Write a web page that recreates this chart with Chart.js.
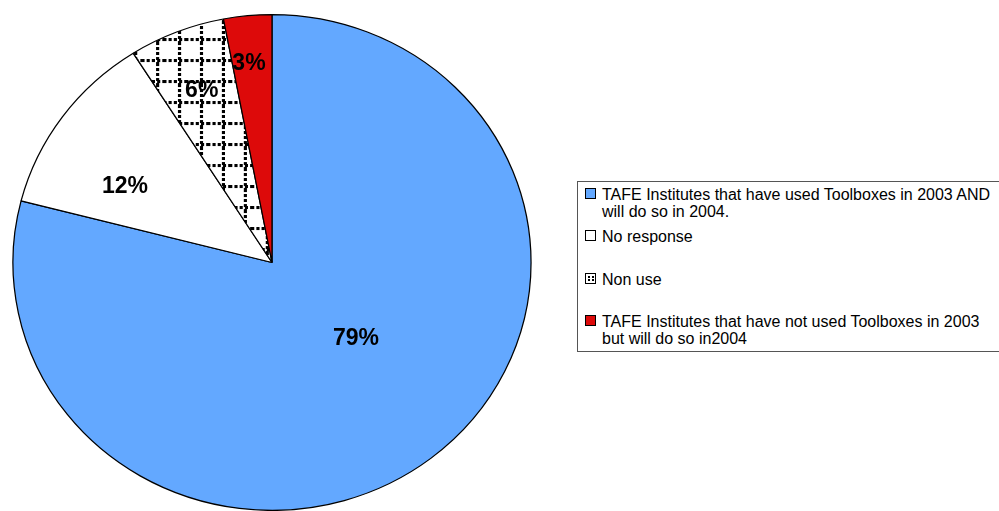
<!DOCTYPE html>
<html>
<head>
<meta charset="utf-8">
<script src="https://cdn.jsdelivr.net/npm/chart.js@4/dist/chart.umd.min.js"></script>
<style>
    body { margin: 0; background: #fff; }
    #wrap { position: relative; width: 999px; height: 511px; overflow: hidden; }
    #legend {
        position: absolute;
        left: 577px;
        top: 181px;
        width: 440px;
        height: 169px;
        border: 1px solid #555;
        background: #fff;
        font-family: 'Liberation Sans', Arial, sans-serif;
        font-size: 16px;
        line-height: 17px;
        color: #000;
    }
    .item { position: absolute; left: 7px; }
    .item canvas { position: absolute; left: 0; top: 2px; }
    .item span { display: block; margin-left: 17px; white-space: nowrap; }
</style>
</head>
<body>
<div id="wrap">
    <canvas id="pie" width="999" height="511"></canvas>
    <div id="legend"></div>
</div>
<script>
const labels = [
    ['TAFE Institutes that have used Toolboxes in 2003 AND', 'will do so in 2004.'],
    ['No response'],
    ['Non use'],
    ['TAFE Institutes that have not used Toolboxes in 2003', 'but will do so in2004'],
];
const values = [79, 12, 6, 3];

// dotted grid fill for the "Non use" slice
function gridPattern(ctx) {
    const tile = document.createElement('canvas');
    tile.width = 21;
    tile.height = 21;
    const t = tile.getContext('2d');
    t.fillStyle = '#fff';
    t.fillRect(0, 0, 21, 21);
    t.fillStyle = '#000';
    for (let i = 0; i < 21; i += 5) {
        t.fillRect(i, 17, 3, 3);
        t.fillRect(14, i, 3, 3);
    }
    return ctx.createPattern(tile, 'repeat');
}

const canvas = document.getElementById('pie');
const ctx = canvas.getContext('2d');
const colors = ['rgb(99, 168, 255)', '#ffffff', gridPattern(ctx), 'rgb(221, 10, 10)'];

// label placement per slice: [radius fraction, angle shift in degrees]
const labelPlace = [[0.445, -9], [0.646, -7.5], [0.75, 0.4], [0.81, -0.9]];
const stretchX = 1.045;

const stretch = {
    id: 'stretch',
    beforeDatasetsDraw(chart) {
        const arc = chart.getDatasetMeta(0).data[0];
        const c = chart.ctx;
        c.save();
        c.translate(arc.x, 0);
        c.scale(stretchX, 1);
        c.translate(-arc.x, 0);
    },
    afterDatasetsDraw(chart) {
        chart.ctx.restore();
    },
};

const sliceLabels = {
    id: 'sliceLabels',
    afterDraw(chart) {
        const c = chart.ctx;
        const total = values.reduce((a, b) => a + b, 0);
        c.save();
        c.font = 'bold 23px "Liberation Sans", Arial, sans-serif';
        c.fillStyle = '#000';
        c.textAlign = 'center';
        c.textBaseline = 'middle';
        chart.getDatasetMeta(0).data.forEach((arc, i) => {
            const mid = (arc.startAngle + arc.endAngle) / 2 + labelPlace[i][1] * Math.PI / 180;
            const r = arc.outerRadius * labelPlace[i][0];
            const x = arc.x + Math.cos(mid) * r * stretchX;
            const y = arc.y + Math.sin(mid) * r;
            c.fillText(Math.round(values[i] / total * 100) + '%', x, y + 1);
        });
        c.restore();
    },
};

const chart = new Chart(canvas, {
    type: 'pie',
    data: {
        labels: labels,
        datasets: [{
            data: values,
            backgroundColor: colors,
            borderColor: '#000',
            borderWidth: 1.2,
        }],
    },
    options: {
        responsive: false,
        animation: false,
        devicePixelRatio: 1,
        layout: { padding: { left: 22, right: 477, top: 14, bottom: 0 } },
        plugins: {
            legend: { display: false },
            tooltip: { enabled: false },
        },
    },
    plugins: [stretch, sliceLabels],
});

// legend built from the chart data
const legendTops = [4, 46, 89, 131];
const legend = document.getElementById('legend');
chart.data.labels.forEach((lines, i) => {
    const item = document.createElement('div');
    item.className = 'item';
    item.style.top = legendTops[i] + 'px';
    const sw = document.createElement('canvas');
    sw.width = 11;
    sw.height = 11;
    const s = sw.getContext('2d');
    s.fillStyle = i === 2 ? '#fff' : colors[i];
    s.fillRect(0, 0, 11, 11);
    if (i === 2) {
        s.fillStyle = '#000';
        s.fillRect(3, 3, 2, 2);
        s.fillRect(3, 6, 2, 2);
        s.fillRect(7, 3, 2, 2);
        s.fillRect(7, 6, 2, 2);
    }
    s.strokeStyle = '#000';
    s.lineWidth = 1;
    s.strokeRect(0.5, 0.5, 10, 10);
    item.appendChild(sw);
    lines.forEach(line => {
        const span = document.createElement('span');
        span.textContent = line;
        item.appendChild(span);
    });
    legend.appendChild(item);
});
</script>
</body>
</html>
